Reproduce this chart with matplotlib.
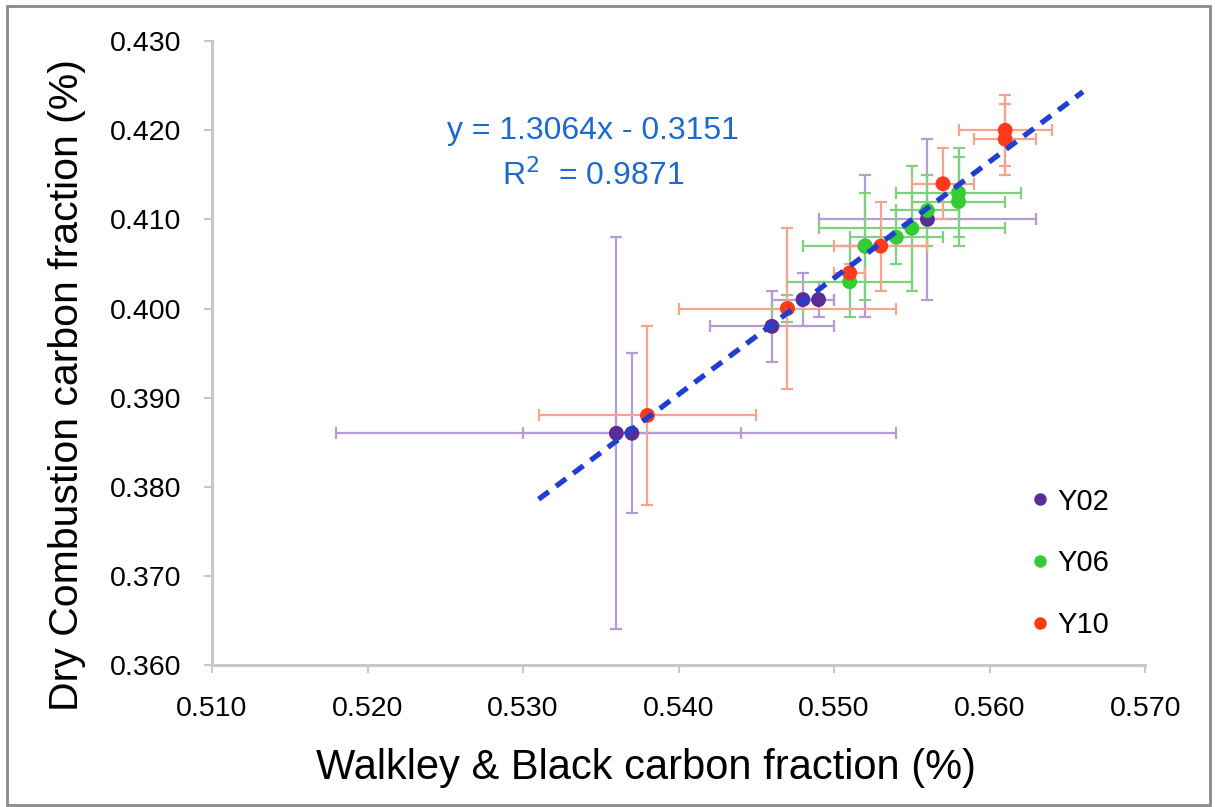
import matplotlib
matplotlib.use("Agg")
import matplotlib.pyplot as plt
from matplotlib.lines import Line2D
from matplotlib.patches import Rectangle
import numpy as np

plt.rcParams['font.family'] = ['Liberation Sans', 'DejaVu Sans']

# Walkley & Black (x) vs dry combustion (y) carbon fractions, per survey year
y02_x = [0.536, 0.537, 0.546, 0.548, 0.549, 0.552, 0.556]
y02_y = [0.386, 0.386, 0.398, 0.401, 0.401, 0.407, 0.410]
y02_xerr = [0.018, 0.007, 0.004, 0.002, 0.001, 0.001, 0.007]
y02_yerr = [0.022, 0.009, 0.004, 0.003, 0.002, 0.008, 0.009]

y06_x = [0.547, 0.551, 0.552, 0.554, 0.555, 0.556, 0.558, 0.558]
y06_y = [0.400, 0.403, 0.407, 0.408, 0.409, 0.411, 0.412, 0.413]
y06_xerr = [0.001, 0.004, 0.004, 0.003, 0.006, 0.002, 0.003, 0.004]
y06_yerr = [0.0015, 0.004, 0.006, 0.003, 0.007, 0.004, 0.005, 0.005]

y10_x = [0.538, 0.547, 0.551, 0.553, 0.557, 0.561, 0.561]
y10_y = [0.388, 0.400, 0.404, 0.407, 0.414, 0.419, 0.420]
y10_xerr = [0.007, 0.007, 0.001, 0.003, 0.002, 0.002, 0.003]
y10_yerr = [0.010, 0.009, 0.001, 0.005, 0.004, 0.004, 0.004]

series_labels = ['Y02', 'Y06', 'Y10']

# Linear fit
fit_slope = 1.3064
fit_intercept = -0.3151
fit_r2 = 0.9871
fit_x_range = [0.531, 0.566]

x_ticks = [0.510, 0.520, 0.530, 0.540, 0.550, 0.560, 0.570]
y_ticks = [0.360, 0.370, 0.380, 0.390, 0.400, 0.410, 0.420, 0.430]

marker_colors = ['#5a2d96', '#33cc33', '#ff3a1a']
bar_colors = ['#b59cd6', '#7fd07f', '#f7a48e']

fig = plt.figure(figsize=(12.15, 8.07), dpi=100)
ax = fig.add_axes([0.1745, 0.176, 0.768, 0.773])

data = [(y02_x, y02_y, y02_xerr, y02_yerr),
        (y06_x, y06_y, y06_xerr, y06_yerr),
        (y10_x, y10_y, y10_xerr, y10_yerr)]

for i, (xs, ys, xe, ye) in enumerate(data):
    ax.errorbar(xs, ys, xerr=xe, yerr=ye, fmt='none', ecolor=bar_colors[i],
                elinewidth=1.6, capsize=4, capthick=1.6, zorder=2 + i)
for i, (xs, ys, xe, ye) in enumerate(data):
    ax.scatter(xs, ys, s=115, color=marker_colors[i], edgecolors='none',
               zorder=5 + i)

fx = np.array(fit_x_range)
ax.plot(fx, fit_slope * fx + fit_intercept, color='#1f3fd0', lw=3.8,
        dashes=(2.4, 1.7), zorder=10)

eq_color = '#1a6ad0'
ax.text(0.5345, 0.4199, f'y = {fit_slope:.4f}x - {-fit_intercept:.4f}',
        color=eq_color, fontsize=23, ha='center', va='center')
ax.text(0.5345, 0.4149, f'R$^{{2}}$  = {fit_r2:.4f}', color=eq_color,
        fontsize=23, ha='center', va='center')

ax.set_xlim(0.510, 0.570)
ax.set_ylim(0.360, 0.430)
ax.set_xticks(x_ticks)
ax.set_yticks(y_ticks)
ax.set_xticklabels([f'{v:.3f}' for v in x_ticks])
ax.set_yticklabels([f'{v:.3f}' for v in y_ticks])
ax.tick_params(axis='both', labelsize=20.5, colors='#c8c8c8',
               labelcolor='black', length=6, width=1.5, direction='out')
ax.tick_params(axis='y', pad=16)
ax.tick_params(axis='x', pad=16)

for side in ['top', 'right']:
    ax.spines[side].set_visible(False)
for side in ['left', 'bottom']:
    ax.spines[side].set_color('#c8c8c8')
    ax.spines[side].set_linewidth(2.2)

ax.set_xlabel('Walkley & Black carbon fraction (%)', fontsize=30)
ax.set_ylabel('Dry Combustion carbon fraction (%)', fontsize=29.5)
ax.xaxis.set_label_coords(0.465, -0.133)
ax.yaxis.set_label_coords(-0.135, 0.449)

handles = [Line2D([], [], marker='o', ls='none', color=c, markersize=8)
           for c in marker_colors]
ax.legend(handles, series_labels, loc='lower right', frameon=False,
          fontsize=21, labelspacing=1.15, handletextpad=0.1,
          handlelength=1.0, bbox_to_anchor=(0.99, 0.0))

fig.patches.append(Rectangle((0.006, 0.003), 0.99, 0.99,
                             transform=fig.transFigure, fill=False,
                             edgecolor='#8a8a8a', lw=2.0))

fig.savefig('out.png', dpi=100)
